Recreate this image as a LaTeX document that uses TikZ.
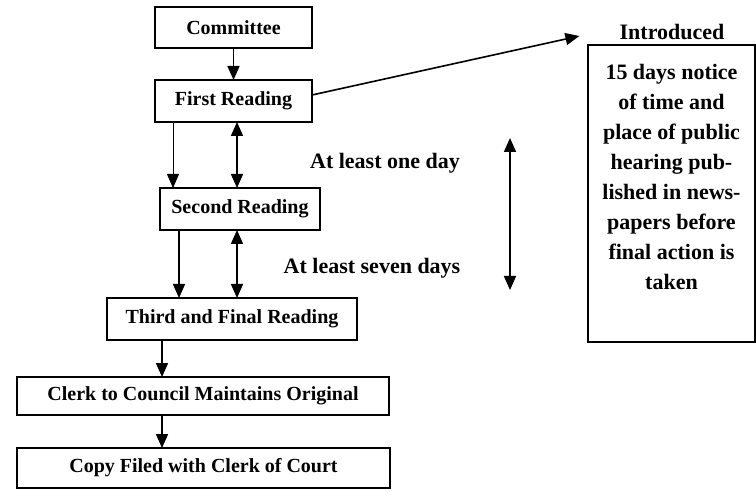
\documentclass[tikz,border=0pt]{standalone}
\usepackage{fontspec}
\setmainfont{Liberation Serif}
\usepackage{tikz}
\usetikzlibrary{arrows.meta}

\begin{document}
\begin{tikzpicture}[x=1pt,y=-1pt]
  \tikzset{BoxStyle/.style = {
    shape         = rectangle,
    draw          = black,
    fill          = white,
    line width    = 1.6pt,
    text          = black,
    inner sep     = 1pt,
    outer sep     = 0pt,
    font          = \fontsize{20}{24}\selectfont\bfseries
    }
  }
  \tikzset{SideTextStyle/.style = {
    inner sep     = 0pt,
    text          = black,
    font          = \fontsize{22}{26}\selectfont\bfseries
    }
  }
  \tikzset{ArrowStyle/.style = {
    draw          = black,
    line width    = 1.6pt,
    -{Triangle[length=14pt,width=12pt]}
    }
  }
  \tikzset{ThinArrowStyle/.style = {
    draw          = black,
    line width    = 0.8pt,
    -{Triangle[length=14pt,width=12pt]}
    }
  }
  \tikzset{BothArrowStyle/.style = {
    draw          = black,
    line width    = 1.6pt,
    {Triangle[length=14pt,width=12pt]}-{Triangle[length=14pt,width=12pt]}
    }
  }
  \useasboundingbox (0,0) rectangle (756,492);

	\node[BoxStyle, minimum width=157pt, minimum height=41pt](Comm) at (233.5, 27.5) {Committee};
	\node[BoxStyle, minimum width=157pt, minimum height=42pt](Read1) at (233.5, 101) {First Reading};
	\node[BoxStyle, minimum width=160pt, minimum height=42pt](Read2) at (240, 209) {Second Reading};
	\node[BoxStyle, minimum width=250pt, minimum height=42pt](Read3) at (232, 319) {Third and Final Reading};
	\node[BoxStyle, minimum width=372pt, minimum height=38pt](Clerk) at (203, 396) {Clerk to Council Maintains Original};
	\node[BoxStyle, minimum width=373pt, minimum height=40pt](Copy) at (203.5, 468) {Copy Filed with Clerk of Court};
	\node[SideTextStyle](Intro) at (672, 32) {Introduced};
	\node[BoxStyle, anchor=north, minimum width=167pt, minimum height=297pt, inner sep=0pt,
	      font=\fontsize{22}{30}\selectfont\bfseries](Notice) at (671.5, 45)
	  {\begin{minipage}[t][285pt][t]{160pt}\centering\vspace{13pt}
	   15 days notice\\ of time and\\ place of public\\ hearing pub-\\ lished in news-\\
	   papers before\\ final action is\\ taken\end{minipage}};
	\node[SideTextStyle](OneDay) at (385, 163) {At least one day};
	\node[SideTextStyle](SevenDays) at (372, 268) {At least seven days};
	\coordinate (SpanTop) at (510, 138);
	\coordinate (SpanBot) at (510, 290);

	\draw[ArrowStyle](Comm) -- (Read1);
	\draw[ThinArrowStyle]([xshift=18pt]Read1.south west) -- ([xshift=18pt]Read1.south west |- Read2.north);
	\draw[BothArrowStyle]([xshift=82pt]Read1.south west) -- ([xshift=82pt]Read1.south west |- Read2.north);
	\draw[ArrowStyle]([xshift=19pt]Read2.south west) -- ([xshift=19pt]Read2.south west |- Read3.north);
	\draw[BothArrowStyle]([xshift=77pt]Read2.south west) -- ([xshift=77pt]Read2.south west |- Read3.north);
	\draw[ArrowStyle]([xshift=55pt]Read3.south west) -- ([xshift=55pt]Read3.south west |- Clerk.north);
	\draw[ArrowStyle]([xshift=55pt]Read3.south west |- Clerk.south) -- ([xshift=55pt]Read3.south west |- Copy.north);
	\draw[ArrowStyle]([yshift=6pt]Read1.east) -- ([xshift=-40pt,yshift=-4pt]Intro.west);
	\draw[BothArrowStyle](SpanTop) -- (SpanBot);

\end{tikzpicture}
\end{document}
